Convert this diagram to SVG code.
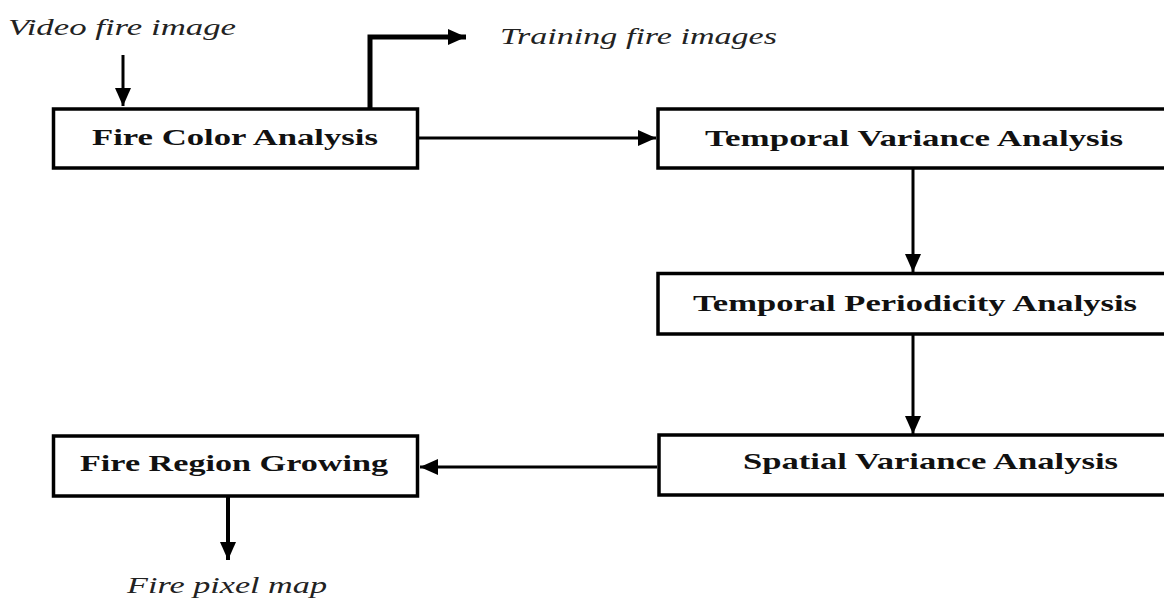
<svg xmlns="http://www.w3.org/2000/svg" width="1164" height="601" viewBox="0 0 1164 601">
<style>
.box{fill:#fff;stroke:#000;stroke-width:3.5}
.lbl{font-family:"Liberation Serif","Times New Roman",serif;font-weight:bold;font-size:24px;fill:#111}
.it{font-family:"Liberation Serif","Times New Roman",serif;font-style:italic;font-size:23px;fill:#222}
.con{fill:none;stroke:#000;stroke-width:3}
</style>
<defs>
<marker id="ah" markerUnits="userSpaceOnUse" markerWidth="20" markerHeight="18" refX="18" refY="8" orient="auto">
<path d="M0,0 L18,8 L0,16 z" fill="#000"/>
</marker>
</defs>
<rect width="1164" height="601" fill="#fff"/>
<g id="connectors">
<path class="con" d="M123,55 V106" marker-end="url(#ah)"/>
<path class="con" d="M370,109 V37 H466" style="stroke-width:5" marker-end="url(#ah)"/>
<path class="con" d="M418,138 H656" marker-end="url(#ah)"/>
<path class="con" d="M913,169 V272" marker-end="url(#ah)"/>
<path class="con" d="M913,335 V434" marker-end="url(#ah)"/>
<path class="con" d="M657,467 H420" marker-end="url(#ah)"/>
<path class="con" d="M228,497 V560" style="stroke-width:4" marker-end="url(#ah)"/>
</g>
<g id="video-fire-image">
<text class="it" x="8" y="35" textLength="228" lengthAdjust="spacingAndGlyphs">Video fire image</text>
</g>
<g id="training-fire-images">
<text class="it" x="500" y="44" textLength="277" lengthAdjust="spacingAndGlyphs">Training fire images</text>
</g>
<g id="fire-color-analysis">
<rect class="box" x="53.5" y="109" width="364" height="59"/>
<text class="lbl" x="92" y="145" textLength="286" lengthAdjust="spacingAndGlyphs">Fire Color Analysis</text>
</g>
<g id="temporal-variance-analysis">
<rect class="box" x="658" y="109" width="520" height="59"/>
<text class="lbl" x="705" y="146" textLength="418" lengthAdjust="spacingAndGlyphs">Temporal Variance Analysis</text>
</g>
<g id="temporal-periodicity-analysis">
<rect class="box" x="658" y="273.5" width="520" height="60.5"/>
<text class="lbl" x="693" y="311" textLength="444" lengthAdjust="spacingAndGlyphs">Temporal Periodicity Analysis</text>
</g>
<g id="spatial-variance-analysis">
<rect class="box" x="659" y="435" width="520" height="60"/>
<text class="lbl" x="743" y="469" textLength="375" lengthAdjust="spacingAndGlyphs">Spatial Variance Analysis</text>
</g>
<g id="fire-region-growing">
<rect class="box" x="53.5" y="436" width="364" height="60"/>
<text class="lbl" x="80" y="471" textLength="308" lengthAdjust="spacingAndGlyphs">Fire Region Growing</text>
</g>
<g id="fire-pixel-map">
<text class="it" x="127" y="593" textLength="200" lengthAdjust="spacingAndGlyphs">Fire pixel map</text>
</g>
</svg>
